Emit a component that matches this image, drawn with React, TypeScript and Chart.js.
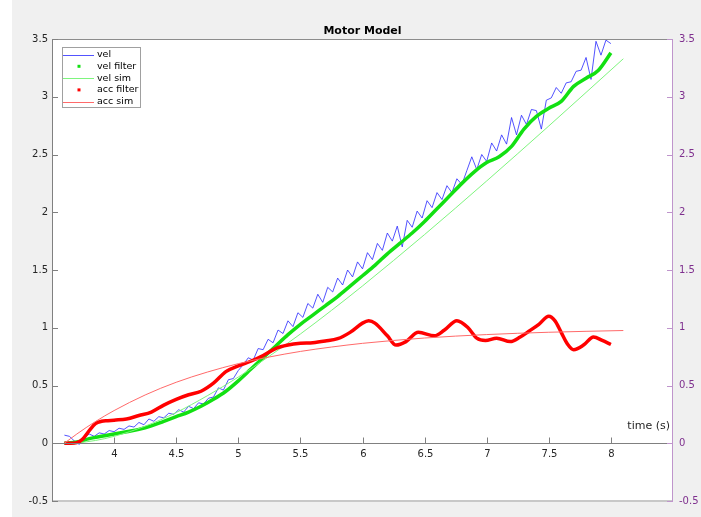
import React, { useEffect, useRef } from "react";
import { Chart, registerables } from "chart.js";

Chart.register(...registerables);

const FONT = "'DejaVu Sans', sans-serif";

const titleText = "Motor Model";
const xLabelText = "time (s)";
const seriesNames = ["vel", "vel filter", "vel sim", "acc filter", "acc sim"];

const xTicks = [4, 4.5, 5, 5.5, 6, 6.5, 7, 7.5, 8];
const yTicks = [-0.5, 0, 0.5, 1, 1.5, 2, 2.5, 3, 3.5];

// raw velocity (noisy)
const tVel = [3.60, 3.64, 3.68, 3.72, 3.76, 3.80, 3.84, 3.88, 3.92, 3.96, 4.00, 4.04, 4.08, 4.12, 4.16, 4.20, 4.24, 4.28, 4.32, 4.36, 4.40, 4.44, 4.48, 4.52, 4.56, 4.60, 4.64, 4.68, 4.72, 4.76, 4.80, 4.84, 4.88, 4.92, 4.96, 5.00, 5.04, 5.08, 5.12, 5.16, 5.20, 5.24, 5.28, 5.32, 5.36, 5.40, 5.44, 5.48, 5.52, 5.56, 5.60, 5.64, 5.68, 5.72, 5.76, 5.80, 5.84, 5.88, 5.92, 5.96, 6.00, 6.04, 6.08, 6.12, 6.16, 6.20, 6.24, 6.28, 6.32, 6.36, 6.40, 6.44, 6.48, 6.52, 6.56, 6.60, 6.64, 6.68, 6.72, 6.76, 6.80, 6.84, 6.88, 6.92, 6.96, 7.00, 7.04, 7.08, 7.12, 7.16, 7.20, 7.24, 7.28, 7.32, 7.36, 7.40, 7.44, 7.48, 7.52, 7.56, 7.60, 7.64, 7.68, 7.72, 7.76, 7.80, 7.84, 7.88, 7.92, 7.96, 8.00];
const vel = [0.07, 0.06, 0.02, -0.01, 0.05, 0.08, 0.06, 0.09, 0.08, 0.11, 0.10, 0.13, 0.12, 0.15, 0.14, 0.18, 0.16, 0.21, 0.19, 0.23, 0.22, 0.26, 0.25, 0.29, 0.27, 0.32, 0.30, 0.35, 0.34, 0.39, 0.40, 0.48, 0.46, 0.55, 0.56, 0.63, 0.68, 0.74, 0.72, 0.82, 0.81, 0.90, 0.87, 0.98, 0.95, 1.06, 1.01, 1.13, 1.09, 1.21, 1.17, 1.29, 1.22, 1.35, 1.31, 1.43, 1.37, 1.50, 1.44, 1.57, 1.51, 1.65, 1.59, 1.73, 1.67, 1.82, 1.75, 1.88, 1.70, 1.93, 1.87, 2.01, 1.95, 2.10, 2.04, 2.17, 2.11, 2.23, 2.17, 2.29, 2.24, 2.36, 2.48, 2.37, 2.50, 2.44, 2.60, 2.53, 2.67, 2.59, 2.82, 2.67, 2.84, 2.76, 2.89, 2.88, 2.72, 2.97, 2.99, 3.08, 3.03, 3.12, 3.13, 3.22, 3.23, 3.34, 3.15, 3.48, 3.36, 3.49, 3.46];

// filtered velocity
const tVelFilter = [3.6, 3.7, 3.8, 3.9, 4.0, 4.1, 4.2, 4.3, 4.4, 4.5, 4.6, 4.7, 4.8, 4.9, 5.0, 5.1, 5.2, 5.3, 5.4, 5.5, 5.6, 5.7, 5.8, 5.9, 6.0, 6.1, 6.2, 6.3, 6.4, 6.5, 6.6, 6.7, 6.8, 6.9, 7.0, 7.1, 7.2, 7.3, 7.4, 7.5, 7.6, 7.7, 7.8, 7.9, 8.0];
const velFilter = [0.0, 0.01, 0.04, 0.06, 0.08, 0.10, 0.12, 0.15, 0.19, 0.23, 0.27, 0.32, 0.38, 0.45, 0.54, 0.64, 0.74, 0.84, 0.94, 1.03, 1.11, 1.19, 1.27, 1.36, 1.45, 1.54, 1.64, 1.73, 1.82, 1.92, 2.03, 2.14, 2.25, 2.35, 2.43, 2.48, 2.57, 2.72, 2.83, 2.90, 2.96, 3.09, 3.16, 3.23, 3.38];

// simulated velocity / acceleration
const tSim = [3.6, 3.7, 3.85, 4.0, 4.25, 4.5, 4.75, 5.0, 5.25, 5.5, 5.75, 6.0, 6.5, 7.0, 7.5, 8.1];
const velSim = [0.0, 0.004, 0.024, 0.06, 0.148, 0.266, 0.411, 0.573, 0.754, 0.946, 1.15, 1.362, 1.807, 2.271, 2.747, 3.329];
const accSim = [0.0, 0.08, 0.188, 0.283, 0.418, 0.528, 0.616, 0.689, 0.747, 0.795, 0.833, 0.865, 0.911, 0.941, 0.961, 0.976];

// filtered acceleration
const tAccFilter = [3.6, 3.65, 3.7, 3.75, 3.8, 3.85, 3.9, 3.95, 4.0, 4.1, 4.2, 4.3, 4.4, 4.5, 4.6, 4.7, 4.8, 4.9, 5.0, 5.1, 5.2, 5.3, 5.4, 5.5, 5.6, 5.7, 5.8, 5.9, 6.0, 6.05, 6.1, 6.2, 6.27, 6.35, 6.45, 6.58, 6.66, 6.76, 6.85, 6.92, 6.99, 7.08, 7.19, 7.27, 7.34, 7.42, 7.5, 7.55, 7.6, 7.65, 7.7, 7.78, 7.86, 7.93, 8.0];
const accFilter = [0.0, 0.0, 0.005, 0.04, 0.11, 0.17, 0.19, 0.195, 0.2, 0.21, 0.24, 0.27, 0.33, 0.38, 0.42, 0.45, 0.52, 0.62, 0.67, 0.71, 0.76, 0.82, 0.85, 0.865, 0.87, 0.885, 0.905, 0.96, 1.04, 1.06, 1.04, 0.93, 0.85, 0.88, 0.96, 0.93, 0.98, 1.06, 1.0, 0.91, 0.89, 0.91, 0.88, 0.92, 0.97, 1.03, 1.10, 1.06, 0.96, 0.86, 0.81, 0.85, 0.92, 0.89, 0.855];

const colors = {
  vel: "rgba(40,40,255,0.8)",
  velFilter: "#12e012",
  velSim: "#7ef57e",
  accFilter: "#ff0000",
  accSim: "#ff6a6a",
  axis: "#808080",
  tick: "#262626",
  purple: "#7e2f8e",
  purpleLine: "#bf95cc",
};

const pts = (t: number[], v: number[]) => t.map((x, i) => ({ x, y: v[i] }));

const fmt = (v: number) => String(Math.round(v * 10) / 10);

const decorPlugin = {
  id: "matlabDecor",
  beforeDraw(chart: any) {
    const { ctx, chartArea: a, width, height } = chart;
    ctx.save();
    ctx.fillStyle = "#ffffff";
    ctx.fillRect(0, 0, width, height);
    ctx.fillStyle = "#f0f0f0";
    ctx.fillRect(12, 0, width - 12, height);
    ctx.fillStyle = "#ffffff";
    ctx.fillRect(a.left, a.top, a.right - a.left, a.bottom - a.top);
    ctx.restore();
  },
  afterDraw(chart: any) {
    const { ctx, chartArea: a } = chart;
    const xs = chart.scales.x;
    const ys = chart.scales.y;
    const line = (x1: number, y1: number, x2: number, y2: number) => {
      ctx.beginPath();
      ctx.moveTo(x1, y1);
      ctx.lineTo(x2, y2);
      ctx.stroke();
    };
    ctx.save();
    // bottom box edge
    ctx.strokeStyle = "#c8c8c8";
    ctx.lineWidth = 2;
    line(a.left, a.bottom, a.right, a.bottom);
    // top box edge
    ctx.lineWidth = 1;
    ctx.strokeStyle = "#8c8c8c";
    line(a.left, a.top + 0.5, a.right, a.top + 0.5);
    // left axis
    ctx.strokeStyle = colors.axis;
    line(a.left + 0.5, a.top, a.left + 0.5, a.bottom);
    for (const v of yTicks) {
      const py = Math.round(ys.getPixelForValue(v)) + 0.5;
      line(a.left, py, a.left + 6, py);
    }
    // x axis at origin
    const y0 = Math.round(ys.getPixelForValue(0)) + 0.5;
    line(a.left, y0, a.right, y0);
    ctx.fillStyle = colors.tick;
    ctx.font = `10px ${FONT}`;
    ctx.textAlign = "center";
    ctx.textBaseline = "middle";
    for (const v of xTicks) {
      const px = Math.round(xs.getPixelForValue(v)) + 0.5;
      line(px, y0, px, y0 - 6);
      ctx.fillText(fmt(v), px, y0 + 11);
    }
    // x label
    ctx.font = `11px ${FONT}`;
    ctx.textAlign = "right";
    ctx.fillText(xLabelText, a.right - 3, y0 - 17);
    // right axis
    ctx.strokeStyle = colors.purpleLine;
    line(a.right - 0.5, a.top, a.right - 0.5, a.bottom + 1);
    for (const v of yTicks) {
      const py = Math.round(ys.getPixelForValue(v)) + 0.5;
      line(a.right, py, a.right - 6, py);
    }
    // title
    ctx.fillStyle = "#000000";
    ctx.font = `bold 11px ${FONT}`;
    ctx.textAlign = "center";
    ctx.fillText(titleText, (a.left + a.right) / 2, 31.5);
    // legend
    const lx = 62.5, ly = 47.5, lw = 78, lh = 60;
    ctx.fillStyle = "#ffffff";
    ctx.fillRect(lx, ly, lw, lh);
    ctx.strokeStyle = "#a0a0a0";
    ctx.lineWidth = 1;
    ctx.strokeRect(lx, ly, lw, lh);
    ctx.font = `9.5px ${FONT}`;
    ctx.textAlign = "left";
    ctx.textBaseline = "middle";
    chart.data.datasets.forEach((ds: any, i: number) => {
      const ry = 54.5 + i * 11.8;
      if (ds.legendDot) {
        ctx.fillStyle = ds.borderColor;
        ctx.fillRect(77.5, ry - 1.5, 3, 3);
      } else {
        ctx.strokeStyle = ds.borderColor;
        ctx.lineWidth = 1;
        line(63, Math.round(ry) + 0.5, 94, Math.round(ry) + 0.5);
      }
      ctx.fillStyle = "#000000";
      ctx.fillText(ds.label, 97, ry);
    });
    ctx.restore();
  },
};

export default function App() {
  const ref = useRef<HTMLCanvasElement>(null);
  useEffect(() => {
    const chart = new Chart(ref.current as HTMLCanvasElement, {
      type: "line",
      data: {
        datasets: [
          {
            label: seriesNames[0],
            data: pts(tVel, vel),
            borderColor: colors.vel,
            borderWidth: 1,
            pointRadius: 0,
            tension: 0,
            order: 5,
          },
          {
            label: seriesNames[1],
            data: pts(tVelFilter, velFilter),
            borderColor: colors.velFilter,
            borderWidth: 3.5,
            pointRadius: 0,
            cubicInterpolationMode: "monotone",
            order: 4,
            legendDot: true,
          },
          {
            label: seriesNames[2],
            data: pts(tSim, velSim),
            borderColor: colors.velSim,
            borderWidth: 1,
            pointRadius: 0,
            cubicInterpolationMode: "monotone",
            order: 3,
          },
          {
            label: seriesNames[3],
            data: pts(tAccFilter, accFilter),
            borderColor: colors.accFilter,
            borderWidth: 3.5,
            pointRadius: 0,
            cubicInterpolationMode: "monotone",
            order: 2,
            legendDot: true,
          },
          {
            label: seriesNames[4],
            data: pts(tSim, accSim),
            borderColor: colors.accSim,
            borderWidth: 1,
            pointRadius: 0,
            cubicInterpolationMode: "monotone",
            order: 1,
          },
        ] as any,
      },
      options: {
        animation: false,
        responsive: false,
        maintainAspectRatio: false,
        layout: { padding: { top: 39, bottom: 16, left: 0, right: 0 } },
        plugins: { legend: { display: false }, title: { display: false }, tooltip: { enabled: false } },
        scales: {
          x: { type: "linear", min: 3.5, max: 8.5, display: false },
          y: {
            type: "linear",
            position: "left",
            min: -0.5,
            max: 3.5,
            afterFit: (s: any) => { s.width = 52; },
            afterBuildTicks: (s: any) => { s.ticks = yTicks.map((v) => ({ value: v })); },
            grid: { display: false, drawTicks: false },
            border: { display: false },
            ticks: { padding: 4, color: colors.tick, font: { family: FONT, size: 10 }, callback: (v: any) => fmt(Number(v)) },
          },
          y2: {
            type: "linear",
            position: "right",
            min: -0.5,
            max: 3.5,
            afterFit: (s: any) => { s.width = 28; },
            afterBuildTicks: (s: any) => { s.ticks = yTicks.map((v) => ({ value: v })); },
            grid: { display: false, drawTicks: false },
            border: { display: false },
            ticks: { padding: 6, color: colors.purple, font: { family: FONT, size: 10 }, callback: (v: any) => fmt(Number(v)) },
          },
        },
      },
      plugins: [decorPlugin],
    });
    return () => chart.destroy();
  }, []);
  return (
    <div style={{ position: "absolute", left: 0, top: 0, width: 701, height: 517 }}>
      <canvas ref={ref} width={701} height={517} style={{ display: "block", width: 701, height: 517 }} />
    </div>
  );
}
